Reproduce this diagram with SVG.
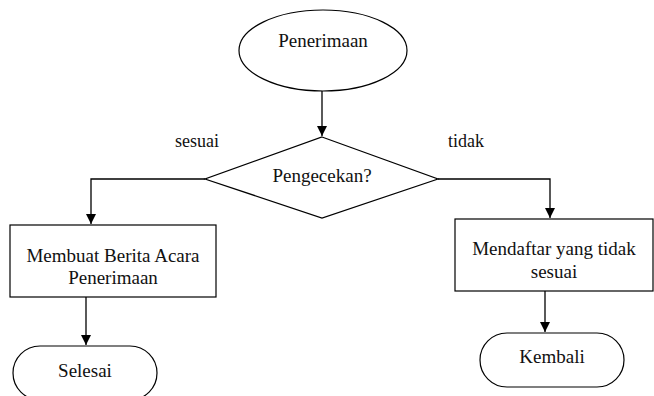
<svg xmlns="http://www.w3.org/2000/svg" width="654" height="396" viewBox="0 0 654 396">
<defs>
<marker id="arr" viewBox="0 0 10 10" refX="10" refY="5" markerWidth="10" markerHeight="10" markerUnits="userSpaceOnUse" orient="auto">
<path d="M0,0 L10,5 L0,10 z" fill="#000"/>
</marker>
<style>
.s{fill:#fff;stroke:#000;stroke-width:1.2}
.t{font-family:"Liberation Serif","Times New Roman",serif;font-size:19px;fill:#111;text-anchor:middle}
.l{font-family:"Liberation Serif","Times New Roman",serif;font-size:18px;fill:#111;text-anchor:middle}
.c{fill:none;stroke:#000;stroke-width:1.3}
</style>
</defs>
<rect width="654" height="396" fill="#fff"/>
<g id="connectors">
<line class="c" x1="322" y1="91" x2="322" y2="136" marker-end="url(#arr)"/>
<polyline class="c" points="205,179 91,179 91,224" marker-end="url(#arr)"/>
<polyline class="c" points="438,179 550,179 550,218" marker-end="url(#arr)"/>
<line class="c" x1="86" y1="297" x2="86" y2="345" marker-end="url(#arr)"/>
<line class="c" x1="545" y1="291" x2="545" y2="332" marker-end="url(#arr)"/>
<text class="l" x="197" y="147">sesuai</text>
<text class="l" x="466" y="147">tidak</text>
</g>
<g id="penerimaan">
<ellipse class="s" cx="323" cy="50.5" rx="84" ry="40.5"/>
<text class="t" x="323" y="47">Penerimaan</text>
</g>
<g id="pengecekan">
<polygon class="s" points="322,137 438,179 322,218 205,179"/>
<text class="t" x="322" y="182">Pengecekan?</text>
</g>
<g id="berita-acara">
<rect class="s" x="10" y="225" width="206" height="72"/>
<text class="t" x="113" y="262">Membuat Berita Acara</text>
<text class="t" x="113" y="284">Penerimaan</text>
</g>
<g id="mendaftar">
<rect class="s" x="455" y="219" width="198" height="72"/>
<text class="t" x="554" y="255">Mendaftar yang tidak</text>
<text class="t" x="554" y="278">sesuai</text>
</g>
<g id="selesai">
<rect class="s" x="13" y="346" width="144" height="54" rx="27" ry="27"/>
<text class="t" x="85" y="377">Selesai</text>
</g>
<g id="kembali">
<rect class="s" x="480" y="333" width="144" height="54" rx="27" ry="27"/>
<text class="t" x="552" y="363">Kembali</text>
</g>
</svg>
